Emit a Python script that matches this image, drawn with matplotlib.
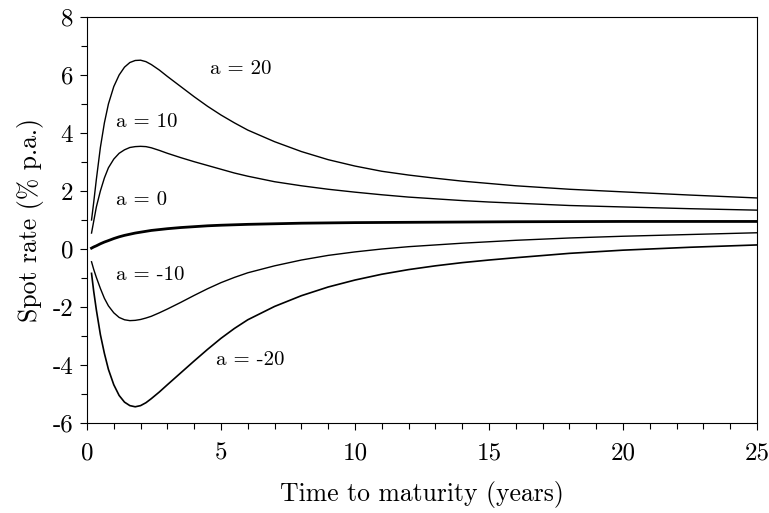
import numpy as np
import matplotlib
matplotlib.use("Agg")
import matplotlib.pyplot as plt

plt.rcParams['font.family'] = 'cmr10'
plt.rcParams['axes.unicode_minus'] = False
plt.rcParams['mathtext.fontset'] = 'cm'

# time to maturity (years)
t = [0.17, 0.25, 0.35, 0.5, 0.65, 0.8, 1.0, 1.2, 1.4, 1.6, 1.8, 2.0, 2.2, 2.4, 2.7,
     3.0, 3.5, 4, 4.5, 5, 5.5, 6, 7, 8, 9, 10, 11, 12, 13, 14, 15, 16, 18, 20, 22.5, 25]

# spot rates (% p.a.)
r_a20 = [1.0, 1.6, 2.4, 3.5, 4.35, 5.0, 5.6, 6.0, 6.27, 6.43, 6.5, 6.51, 6.46, 6.36, 6.17,
         5.95, 5.6, 5.25, 4.92, 4.62, 4.35, 4.1, 3.7, 3.36, 3.08, 2.86, 2.68, 2.55, 2.44, 2.34,
         2.26, 2.18, 2.06, 1.97, 1.86, 1.76]
r_a10 = [0.55, 0.95, 1.45, 2.0, 2.45, 2.8, 3.1, 3.3, 3.42, 3.5, 3.53, 3.54, 3.53, 3.49, 3.4,
         3.3, 3.15, 3.01, 2.88, 2.75, 2.62, 2.51, 2.32, 2.18, 2.06, 1.96, 1.87, 1.79, 1.73, 1.67,
         1.62, 1.58, 1.5, 1.45, 1.39, 1.34]
r_a0 = [0.03, 0.07, 0.11, 0.18, 0.24, 0.29, 0.36, 0.42, 0.47, 0.51, 0.55, 0.58, 0.61, 0.64, 0.67,
        0.7, 0.74, 0.77, 0.8, 0.82, 0.835, 0.85, 0.87, 0.89, 0.9, 0.91, 0.915, 0.92, 0.925, 0.93,
        0.935, 0.94, 0.945, 0.95, 0.95, 0.95]
r_am10 = [-0.44, -0.7, -0.98, -1.36, -1.7, -1.96, -2.2, -2.36, -2.44, -2.47, -2.46, -2.43, -2.38, -2.32, -2.2,
          -2.07, -1.84, -1.6, -1.37, -1.16, -0.98, -0.82, -0.58, -0.38, -0.22, -0.1, 0.0, 0.08, 0.14, 0.2,
          0.25, 0.3, 0.38, 0.44, 0.5, 0.56]
r_am20 = [-0.84, -1.45, -2.1, -2.95, -3.6, -4.15, -4.68, -5.05, -5.28, -5.4, -5.44, -5.4, -5.3, -5.16, -4.93,
          -4.68, -4.27, -3.86, -3.46, -3.08, -2.74, -2.44, -1.98, -1.61, -1.31, -1.07, -0.87, -0.71, -0.58, -0.47,
          -0.38, -0.3, -0.15, -0.04, 0.06, 0.14]

labels = ["a = 20", "a = 10", "a = 0", "a = -10", "a = -20"]
label_pos = [(4.6, 6.2), (1.08, 4.38), (1.08, 1.69), (1.08, -0.9), (4.8, -3.82)]

fig = plt.figure(figsize=(7.69, 5.13), dpi=100)
ax = fig.add_axes([0.1131, 0.1754, 0.8713, 0.7915])

ax.plot(t, r_a20, 'k', lw=1.0)
ax.plot(t, r_a10, 'k', lw=1.0)
ax.plot(t, r_a0, 'k', lw=2.0)
ax.plot(t, r_am10, 'k', lw=1.0)
ax.plot(t, r_am20, 'k', lw=1.2)

for lab, (x, y) in zip(labels, label_pos):
    ax.text(x, y, lab, fontsize=15, va='center', ha='left')

ax.set_xlim(0, 25)
ax.set_ylim(-6, 8)
ax.set_xticks(np.arange(0, 26, 5))
ax.set_xticks(np.arange(0, 26, 1), minor=True)
ax.set_yticks(np.arange(-6, 9, 2))
ax.set_yticks(np.arange(-6, 9, 1), minor=True)
ax.tick_params(which='major', direction='out', length=5, width=0.8, labelsize=18, pad=5)
ax.tick_params(which='minor', direction='out', length=4, width=0.8)
ax.tick_params(axis='x', which='major', pad=9)

ax.set_xlabel("Time to maturity (years)", fontsize=18.5, labelpad=12)
ax.set_ylabel("Spot rate (% p.a.)", fontsize=18.5, labelpad=6)

fig.savefig("out.png", dpi=100)
